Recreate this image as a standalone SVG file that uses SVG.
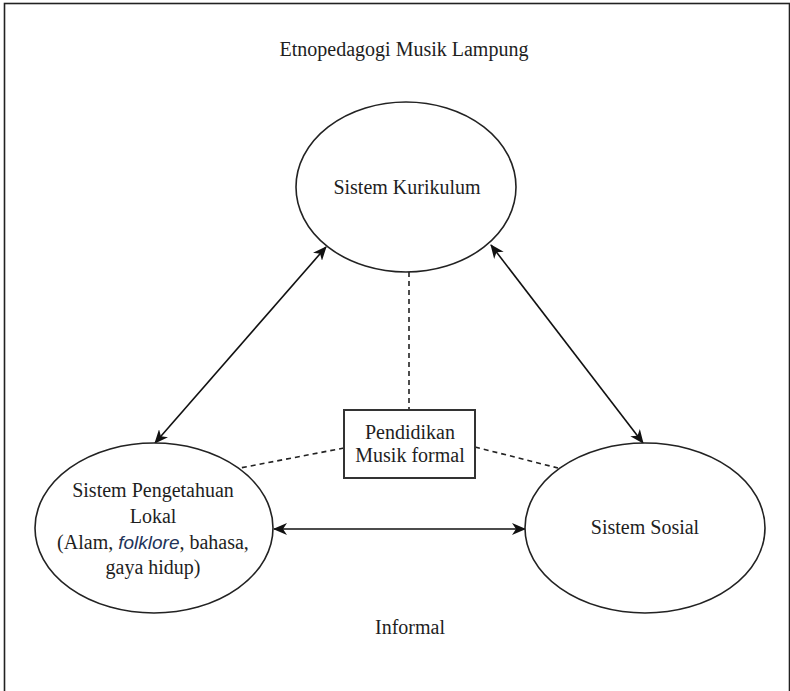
<svg xmlns="http://www.w3.org/2000/svg" width="790" height="691" viewBox="0 0 790 691">
  <style>
    .frame { fill: #ffffff; stroke: #222222; stroke-width: 1.6; }
    .node { fill: #ffffff; stroke: #222222; stroke-width: 1.6; }
    .box { fill: #ffffff; stroke: #333333; stroke-width: 2; }
    .label { font-family: "Liberation Serif", "Times New Roman", serif; font-size: 20px; fill: #1e1e1e; text-anchor: middle; }
    .ital { font-family: "Liberation Sans", Arial, sans-serif; font-style: italic; font-size: 19px; fill: #22335a; }
    .link { fill: none; stroke: #111111; stroke-width: 1.6; }
    .dash { fill: none; stroke: #222222; stroke-width: 1.6; stroke-dasharray: 5 4; }
  </style>
  <defs>
    <marker id="arrow" markerUnits="userSpaceOnUse" markerWidth="14" markerHeight="12" viewBox="0 0 14 12" refX="13" refY="6" orient="auto-start-reverse">
      <path d="M0,0 L14,6 L0,12 L4,6 Z" fill="#111111"/>
    </marker>
  </defs>

  <!-- outer frame -->
  <rect class="frame" x="4.5" y="3.5" width="785" height="690"/>

  <!-- title -->
  <text class="label" x="404" y="56">Etnopedagogi Musik Lampung</text>

  <!-- connectors -->
  <g id="connectors">
    <line class="link" x1="326" y1="247" x2="155" y2="443" marker-start="url(#arrow)" marker-end="url(#arrow)"/>
    <line class="link" x1="491" y1="245" x2="643" y2="443" marker-start="url(#arrow)" marker-end="url(#arrow)"/>
    <line class="link" x1="274" y1="529" x2="525" y2="529" marker-start="url(#arrow)" marker-end="url(#arrow)"/>
    <line class="dash" x1="409" y1="272" x2="409" y2="410"/>
    <line class="dash" x1="344" y1="448" x2="240" y2="468"/>
    <line class="dash" x1="475" y1="447" x2="558" y2="468"/>
  </g>

  <!-- curriculum system -->
  <g id="node-kurikulum">
    <ellipse class="node" cx="406" cy="187" rx="110" ry="85"/>
    <text class="label" x="407" y="194">Sistem Kurikulum</text>
  </g>

  <!-- local knowledge system -->
  <g id="node-pengetahuan">
    <ellipse class="node" cx="154" cy="528" rx="119" ry="85"/>
    <text class="label" x="153" y="497">Sistem Pengetahuan</text>
    <text class="label" x="153" y="523">Lokal</text>
    <text class="label" x="153" y="549">(Alam, <tspan class="ital">folklore</tspan>, bahasa,</text>
    <text class="label" x="153" y="574">gaya hidup)</text>
  </g>

  <!-- social system -->
  <g id="node-sosial">
    <ellipse class="node" cx="645" cy="528" rx="120" ry="85"/>
    <text class="label" x="645" y="534">Sistem Sosial</text>
  </g>

  <!-- formal music education -->
  <g id="node-formal">
    <rect class="box" x="344" y="410" width="131" height="68"/>
    <text class="label" x="410" y="439">Pendidikan</text>
    <text class="label" x="410" y="462">Musik formal</text>
  </g>

  <!-- informal label -->
  <g id="node-informal">
    <text class="label" x="410" y="634">Informal</text>
  </g>
</svg>
